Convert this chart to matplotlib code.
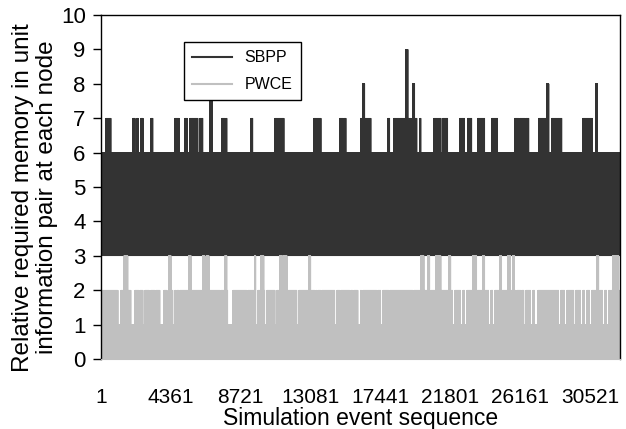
import numpy as np
import matplotlib
matplotlib.use("Agg")
import matplotlib.pyplot as plt

plt.rcParams['font.family'] = ['Liberation Sans', 'DejaVu Sans']
plt.rcParams['path.simplify'] = False
plt.rcParams['agg.path.chunksize'] = 20000

# number of simulation events on the x axis
n_events = 32400
tick_events = [1, 4361, 8721, 13081, 17441, 21801, 26161, 30521]

# SBPP: memory swings between 3 and 6 on every event,
# these ranges (first event, last event) reach higher values
sbpp_low = 3
sbpp_high = 6
sbpp_to7 = [
    (310, 620), (2000, 2120), (2250, 2310), (2500, 2620), (3120, 3240),
    (4620, 4870), (5240, 5370), (5550, 6050), (6180, 6360), (7550, 7740),
    (7800, 7860), (9360, 9480), (10860, 11420), (13290, 13730), (14910, 15100),
    (15160, 15290), (16220, 16850), (17910, 18030), (18280, 19340), (19410, 19720),
    (19910, 19970), (20780, 21220), (21340, 21650), (22400, 22710), (22900, 23150),
    (23520, 23960), (24400, 24770), (25830, 26080), (26150, 26460), (26520, 26710),
    (27330, 27960), (28140, 28770), (30080, 30700),
]
sbpp_peak_ranges = [(6800, 6930), (16350, 16470), (19030, 19160),
                    (19470, 19590), (27830, 27960), (30890, 31010)]
sbpp_peak_values = [8, 8, 9, 8, 8, 8]
sbpp_dip = [(28950, 29020)]   # only up to 5 here

# PWCE: memory swings between 0 and 2
pwce_low = 0
pwce_high = 2
pwce_to3 = [
    (1440, 1680), (4240, 4370), (5490, 5620), (6360, 6490), (6610, 6740),
    (7740, 7860), (9610, 9670), (9980, 10170), (11170, 11290), (11360, 11610),
    (12980, 13100), (19970, 20160), (20400, 20530), (20900, 21030), (21090, 21220),
    (21720, 21840), (23210, 23460), (23840, 23960), (24900, 25020), (25400, 25580),
    (25710, 25830), (30950, 31080), (31950, 32200), (32260, 32320),
]
pwce_only1 = [
    (1060, 1250), (1870, 2120), (2370, 2430), (2620, 2750), (3000, 3120),
    (3370, 3430), (3680, 3930), (4120, 4240), (4490, 4620), (4680, 4740),
    (4870, 4930), (7430, 7490), (7920, 8240), (9110, 9170), (9670, 9800),
    (10230, 10360), (10860, 10980), (12230, 12360), (13350, 13420), (13480, 13540),
    (13730, 13790), (14600, 14730), (14910, 14980), (15540, 15600), (15720, 15790),
    (16040, 16190), (16260, 16350), (17220, 17280), (17470, 17600), (17970, 18030),
    (19470, 19530), (20530, 20590), (21960, 22090), (22460, 22590), (22710, 22840),
    (24210, 24340), (24460, 24590), (25900, 25960), (26210, 26270), (26400, 26520),
    (26830, 26960), (27080, 27270), (28580, 28700), (28950, 29080), (29520, 29640),
    (29950, 30080), (30200, 30330), (30510, 30640), (31080, 31140), (31320, 31450),
    (31570, 31700), (31760, 31820),
]

events = np.arange(1, n_events + 1)


def build_series(low, high, overrides):
    # every other event sits at the low level, the rest at the (local) high level
    top = np.full(n_events, float(high))
    for ranges, value in overrides:
        for a, b in ranges:
            top[(events >= a) & (events <= b)] = value
    return np.where(events % 2 == 0, top, float(low))


sbpp_over = [(sbpp_to7, 7), (sbpp_dip, 5)]
for rng, v in zip(sbpp_peak_ranges, sbpp_peak_values):
    sbpp_over.append(([rng], v))
sbpp = build_series(sbpp_low, sbpp_high, sbpp_over)
pwce = build_series(pwce_low, pwce_high, [(pwce_to3, 3), (pwce_only1, 1)])

fig = plt.figure(figsize=(6.26, 4.29), dpi=100)
ax = fig.add_axes([0.1613, 0.1632, 0.8291, 0.8018])

ax.plot(events, sbpp, color='#333333', lw=0.35, label='SBPP')
ax.plot(events, pwce, color='#c0c0c0', lw=0.35, label='PWCE')

ax.set_xlim(1, n_events)
ax.set_ylim(0, 10)
ax.set_yticks(range(0, 11))
ax.set_xticks(tick_events)
ax.set_xticklabels([str(t) for t in tick_events])
ax.tick_params(axis='y', direction='out', length=6, width=1, pad=5, labelsize=16)
ax.tick_params(axis='x', length=0, pad=21, labelsize=15)

for side in ['left', 'top', 'right']:
    ax.spines[side].set_color('black')
    ax.spines[side].set_linewidth(1)
ax.spines['bottom'].set_color('#c0c0c0')

ax.set_xlabel('Simulation event sequence', fontsize=16.5, labelpad=0)
ax.set_ylabel('Relative required memory in unit\ninformation pair at each node',
              fontsize=17.5, linespacing=1.1)
ax.yaxis.set_label_coords(-0.083, 0.47)

leg = ax.legend(loc='upper left', bbox_to_anchor=(0.160, 0.921), fontsize=11.5,
                frameon=True, fancybox=False, framealpha=1, edgecolor='black',
                handlelength=2.5, borderpad=0.5, labelspacing=0.75,
                borderaxespad=0)
leg.get_frame().set_linewidth(1)
for line in leg.get_lines():
    line.set_linewidth(1.5)

fig.savefig('out.png', dpi=100)
